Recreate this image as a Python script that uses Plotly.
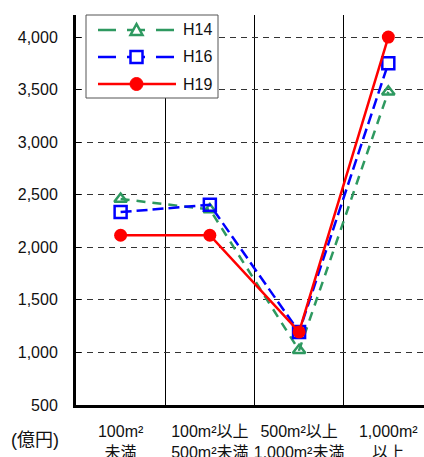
import plotly.graph_objects as go

categories = ["100m²<br>未満", "100m²以上<br>500m²未満", "500m²以上<br>1,000m²未満", "1,000m²<br>以上"]
h14 = [2460, 2360, 1020, 3480]
h16 = [2335, 2405, 1195, 3750]
h19 = [2115, 2115, 1195, 4000]
series_names = ["H14", "H16", "H19"]
ytick_vals = [500, 1000, 1500, 2000, 2500, 3000, 3500, 4000]

colors = ["#2E9960", "#0000FF", "#FF0000"]
xs = list(range(len(categories)))
font_family = "Liberation Sans, Arial, Noto Sans CJK JP"

# plot-area geometry (pixels) for the hand-drawn legend box
W, H = 424, 457
L, T, B = 76, 15, 52
PW, PH = W - L, H - T - B


def px(xp):
    return (xp - L) / PW


def py(yp):
    return (H - B - yp) / PH


fig = go.Figure()
fig.add_trace(go.Scatter(
    x=xs, y=h14, name=series_names[0], mode="lines+markers",
    line=dict(color=colors[0], width=2.5, dash="9px,7px"),
    marker=dict(symbol="triangle-up-open", size=11, color=colors[0], line=dict(width=2.5)),
))
fig.add_trace(go.Scatter(
    x=xs, y=h16, name=series_names[1], mode="lines+markers",
    line=dict(color=colors[1], width=2.5, dash="11px,5px"),
    marker=dict(symbol="square-open", size=12, color=colors[1], line=dict(width=2.5)),
))
fig.add_trace(go.Scatter(
    x=xs, y=h19, name=series_names[2], mode="lines+markers",
    line=dict(color=colors[2], width=2.5),
    marker=dict(symbol="circle", size=13, color=colors[2]),
))

# legend drawn as decoration
shapes = [dict(type="rect", xref="paper", yref="paper", x0=px(86), x1=px(218), y0=py(15), y1=py(98),
               line=dict(color="#555555", width=1), fillcolor="white", layer="above")]
annotations = []
rows = [30, 57, 84]
dashes = ["18px,11px", "18px,11px", "solid"]
for i, name in enumerate(series_names):
    yc = rows[i]
    shapes.append(dict(type="line", xref="paper", yref="paper", x0=px(98), x1=px(176), y0=py(yc), y1=py(yc),
                       line=dict(color=colors[i], width=2.5, dash=dashes[i]), layer="above"))
    annotations.append(dict(text=name, xref="paper", yref="paper", x=px(181), y=py(yc),
                            xanchor="left", yanchor="middle", showarrow=False, font=dict(size=16)))
mx = 136.5
# triangle (open)
shapes.append(dict(type="path", xref="paper", yref="paper",
                   path=f"M {px(mx-6)},{py(rows[0]+5)} L {px(mx+6)},{py(rows[0]+5)} L {px(mx)},{py(rows[0]-6)} Z",
                   line=dict(color=colors[0], width=2.5), fillcolor="white", layer="above"))
# square (open)
shapes.append(dict(type="rect", xref="paper", yref="paper", x0=px(mx-6), x1=px(mx+6),
                   y0=py(rows[1]+6), y1=py(rows[1]-6),
                   line=dict(color=colors[1], width=2.5), fillcolor="white", layer="above"))
# circle (filled)
shapes.append(dict(type="circle", xref="paper", yref="paper", x0=px(mx-6.5), x1=px(mx+6.5),
                   y0=py(rows[2]+6.5), y1=py(rows[2]-6.5),
                   line=dict(color=colors[2], width=1), fillcolor=colors[2], layer="above"))

annotations.append(dict(
    text="(億円)", xref="paper", yref="paper", x=px(35), y=py(440),
    xanchor="center", yanchor="middle", showarrow=False, font=dict(size=18),
))

fig.update_layout(
    width=W, height=H,
    margin=dict(l=L, r=0, t=T, b=B, autoexpand=False),
    paper_bgcolor="white", plot_bgcolor="white",
    font=dict(family=font_family, size=16, color="#111111"),
    showlegend=False,
    xaxis=dict(
        range=[-0.5, 3.4], tickmode="array", tickvals=xs, ticktext=categories,
        showgrid=False, zeroline=False, automargin=False,
        showline=True, linecolor="black", linewidth=3,
        ticks="", ticklabelstandoff=10,
        minor=dict(tick0=0.5, dtick=1, showgrid=True, gridcolor="black", gridwidth=1),
        tickfont=dict(size=16),
    ),
    yaxis=dict(
        range=[500, 4210], tickmode="array", tickvals=ytick_vals, automargin=False,
        tickformat=",d", showgrid=True, gridcolor="#333333", griddash="6px,5px", gridwidth=1,
        zeroline=False, showline=True, linecolor="black", linewidth=3,
        ticks="inside", ticklen=5, tickcolor="black", ticklabelstandoff=12,
        tickfont=dict(size=16),
    ),
    shapes=shapes,
    annotations=annotations,
)

fig.write_html("out.html")
